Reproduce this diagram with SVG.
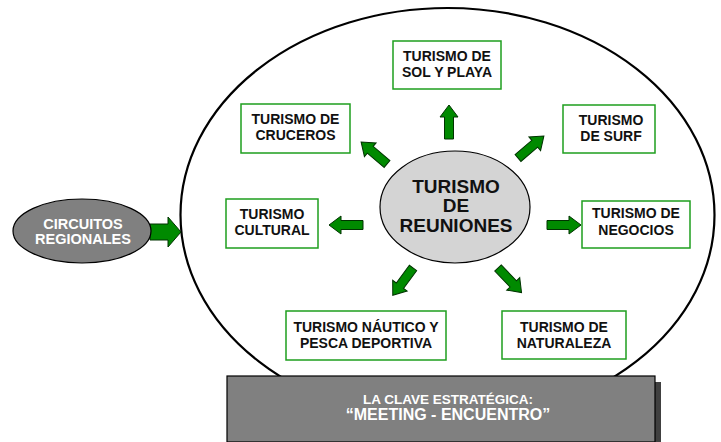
<svg xmlns="http://www.w3.org/2000/svg" width="721" height="442" viewBox="0 0 721 442">
<style>
.box{fill:#fff;stroke:#1e9e1e;stroke-width:1.5}
.t{font-family:"Liberation Sans",Arial,sans-serif;font-weight:bold;font-size:14px;fill:#111;text-anchor:middle}
.w{fill:#fff}
.big{font-size:19px}
.s13{font-size:13.5px}
.s135{font-size:14.5px}
.s15{font-size:16px}
.arr{fill:#008a00;stroke:#003300;stroke-width:1}
</style>
<defs>
<path id="a" d="M0,-4.5 L22,-4.5 L22,-9 L34,0 L22,9 L22,4.5 L0,4.5 Z"/>
</defs>
<rect width="721" height="442" fill="#fff"/>
<g id="frame">
<ellipse cx="447.5" cy="215" rx="267" ry="207" fill="#fff" stroke="#000" stroke-width="2.2"/>
</g>
<g id="connectors">
<path class="arr" d="M150,224 L168,224 L168,217 L181,232 L168,247 L168,240 L150,240 Z"/>
<use href="#a" class="arr" transform="translate(449,139) rotate(-90)"/>
<use href="#a" class="arr" transform="translate(387,164) rotate(-139.6)"/>
<use href="#a" class="arr" transform="translate(518,158) rotate(-40.4)"/>
<use href="#a" class="arr" transform="translate(363,225) rotate(180)"/>
<use href="#a" class="arr" transform="translate(547,225)"/>
<use href="#a" class="arr" transform="translate(413,268) rotate(126.5)"/>
<use href="#a" class="arr" transform="translate(498,268) rotate(46.2)"/>
</g>
<g id="reuniones">
<ellipse cx="455" cy="207" rx="75" ry="56" fill="#d4d4d4" stroke="#000" stroke-width="1.2"/>
<text class="t big" x="456" y="193">TURISMO</text>
<text class="t big" x="456" y="212">DE</text>
<text class="t big" x="456" y="232">REUNIONES</text>
</g>
<g id="sol">
<rect class="box" x="393" y="41" width="108" height="48"/>
<text class="t" x="447" y="61">TURISMO DE</text>
<text class="t" x="447" y="77">SOL Y PLAYA</text>
</g>
<g id="cruceros">
<rect class="box" x="241" y="104" width="109" height="49"/>
<text class="t" x="295.5" y="124">TURISMO DE</text>
<text class="t" x="295.5" y="140">CRUCEROS</text>
</g>
<g id="surf">
<rect class="box" x="563" y="105" width="92" height="48"/>
<text class="t" x="611" y="125">TURISMO</text>
<text class="t" x="611" y="141">DE SURF</text>
</g>
<g id="cultural">
<rect class="box" x="226" y="199" width="92" height="49"/>
<text class="t" x="272" y="219">TURISMO</text>
<text class="t" x="272" y="235">CULTURAL</text>
</g>
<g id="negocios">
<rect class="box" x="582" y="201" width="108" height="47"/>
<text class="t" x="636" y="218">TURISMO DE</text>
<text class="t" x="636" y="235">NEGOCIOS</text>
</g>
<g id="nautico">
<rect class="box" x="286" y="311" width="160" height="49"/>
<text class="t" x="366" y="332">TURISMO NÁUTICO Y</text>
<text class="t" x="366" y="348">PESCA DEPORTIVA</text>
</g>
<g id="naturaleza">
<rect class="box" x="502" y="311" width="124" height="48"/>
<text class="t" x="564" y="332">TURISMO DE</text>
<text class="t" x="564" y="348">NATURALEZA</text>
</g>
<g id="circuitos">
<ellipse cx="82" cy="231" rx="69" ry="32" fill="#808080" stroke="#000" stroke-width="1.2"/>
<text class="t w s135" x="83" y="229">CIRCUITOS</text>
<text class="t w s135" x="83" y="244">REGIONALES</text>
</g>
<g id="clave">
<rect x="233" y="382" width="428" height="66" fill="#404040"/>
<rect x="227" y="376" width="428" height="66" fill="#808080" stroke="#000" stroke-width="1.2"/>
<text class="t w s13" x="448" y="404">LA CLAVE ESTRATÉGICA:</text>
<text class="t w s15" x="448" y="420">“MEETING - ENCUENTRO”</text>
</g>
</svg>
